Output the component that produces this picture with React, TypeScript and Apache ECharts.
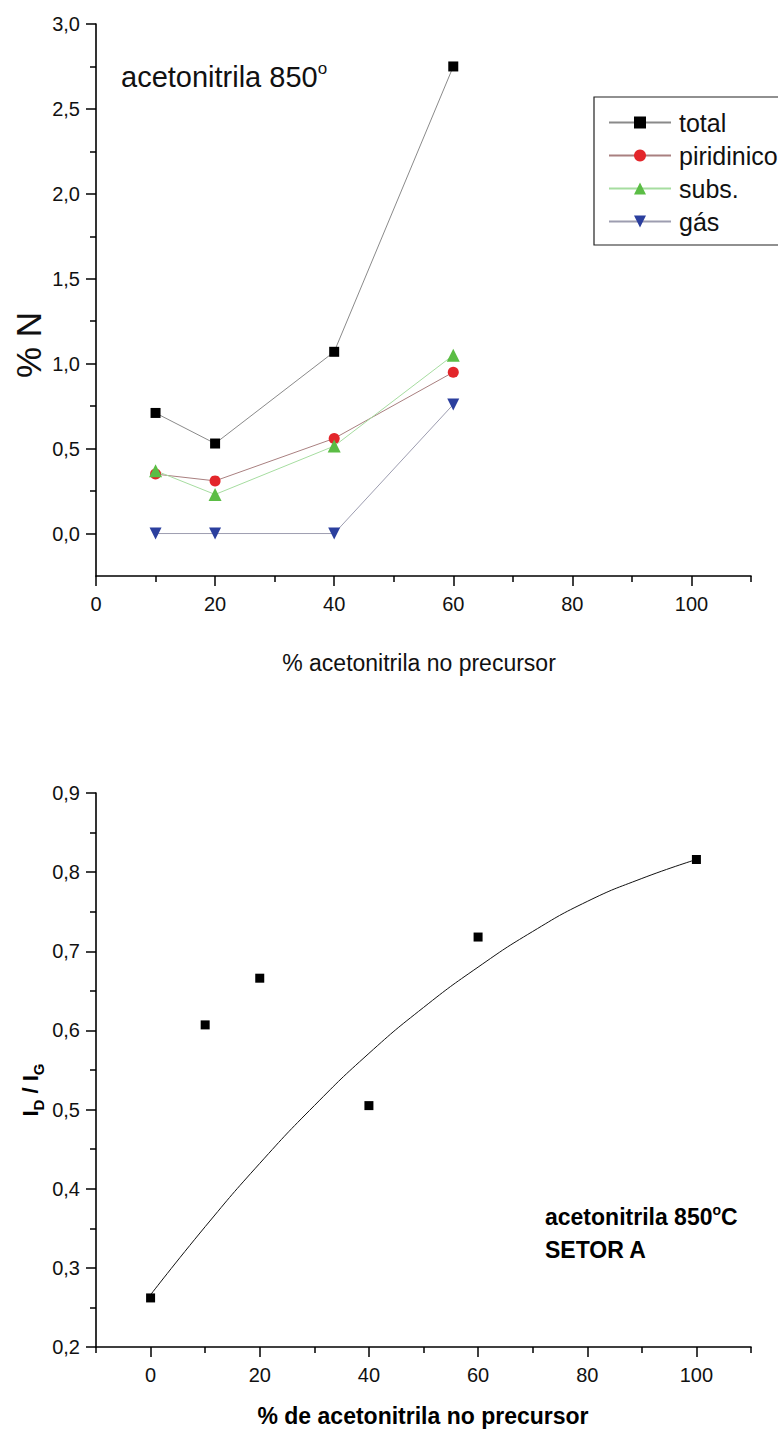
import React, { useEffect, useRef } from 'react';
import * as echarts from 'echarts';

const FONT = '"Liberation Sans", Arial, Helvetica, sans-serif';

// ---- Top chart: % N vs % acetonitrila ----
const topX = [10, 20, 40, 60];
const topTotal = [0.71, 0.53, 1.07, 2.75];
const topPiridinico = [0.35, 0.31, 0.56, 0.95];
const topSubs = [0.37, 0.23, 0.515, 1.05];
const topGas = [0, 0, 0, 0.76];
const topNames = ['total', 'piridinico', 'subs.', 'gás'];

const topXMajor = [0, 20, 40, 60, 80, 100];
const topXMinor = [10, 30, 50, 70, 90, 110];
const topYMajor = [0, 0.5, 1.0, 1.5, 2.0, 2.5, 3.0];
const topYMinor = [0.25, 0.75, 1.25, 1.75, 2.25, 2.75];

// ---- Bottom chart: ID/IG vs % acetonitrila ----
const botX = [0, 10, 20, 40, 60, 100];
const botRatio = [0.262, 0.607, 0.666, 0.505, 0.718, 0.816];
const fitX = [0, 10, 20, 30, 40, 50, 60, 70, 80, 90, 100];
const fitY = [0.266, 0.352, 0.432, 0.505, 0.571, 0.629, 0.68, 0.725, 0.763, 0.792, 0.816];

const botXMajor = [0, 20, 40, 60, 80, 100];
const botXMinor = [-10, 10, 30, 50, 70, 90, 110];
const botYMajor = [0.2, 0.3, 0.4, 0.5, 0.6, 0.7, 0.8, 0.9];
const botYMinor = [0.25, 0.35, 0.45, 0.55, 0.65, 0.75, 0.85];

const pairs = (xs: number[], ys: number[]) => xs.map((x, i) => [x, ys[i]]);
const fmtDec = (v: number) => v.toFixed(1).replace('.', ',');
const fmtInt = (v: number) => String(Math.round(v));

const DOWN_TRI = 'path://M0,0 L12,0 L6,11 Z';

function majorAxis(dim: 'x' | 'y', gridIndex: number, min: number, max: number, ticks: number[], fmt: (v: number) => string) {
  return {
    gridIndex,
    type: 'value',
    min,
    max,
    position: dim === 'x' ? 'bottom' : 'left',
    axisLine: { show: true, onZero: false, lineStyle: { color: '#000', width: 1.6 } },
    axisTick: { show: true, inside: false, length: 10, customValues: ticks, lineStyle: { color: '#000', width: 1.5 } },
    axisLabel: {
      show: true,
      customValues: ticks,
      formatter: fmt,
      fontSize: 20,
      fontFamily: FONT,
      color: '#111',
      margin: dim === 'x' ? 18 : 16,
    },
    splitLine: { show: false },
    minorTick: { show: false },
  };
}

function minorAxis(dim: 'x' | 'y', gridIndex: number, min: number, max: number, ticks: number[]) {
  return {
    gridIndex,
    type: 'value',
    min,
    max,
    position: dim === 'x' ? 'bottom' : 'left',
    axisLine: { show: false, onZero: false },
    axisTick: { show: true, inside: false, length: 6, customValues: ticks, lineStyle: { color: '#000', width: 1.5 } },
    axisLabel: { show: false },
    splitLine: { show: false },
  };
}

export default function App() {
  const ref = useRef<HTMLDivElement>(null);

  useEffect(() => {
    if (!ref.current) return;
    const chart = echarts.init(ref.current, null, { renderer: 'svg' });

    const lineSeries = (name: string, ys: number[], symbol: string, size: number, marker: string, line: string) => ({
      name,
      type: 'line',
      xAxisIndex: 0,
      yAxisIndex: 0,
      data: pairs(topX, ys),
      symbol,
      symbolSize: size,
      showSymbol: true,
      itemStyle: { color: marker, opacity: 1 },
      lineStyle: { color: line, width: 1 },
      emphasis: { disabled: true },
    });

    chart.setOption({
      animation: false,
      backgroundColor: '#fff',
      textStyle: { fontFamily: FONT },
      grid: [
        { left: 96, top: 24, width: 655, height: 552, containLabel: false },
        { left: 96, top: 793, width: 655, height: 554, containLabel: false },
      ],
      xAxis: [
        majorAxis('x', 0, 0, 110, topXMajor, fmtInt),
        minorAxis('x', 0, 0, 110, topXMinor),
        majorAxis('x', 1, -10, 110, botXMajor, fmtInt),
        minorAxis('x', 1, -10, 110, botXMinor),
      ],
      yAxis: [
        majorAxis('y', 0, -0.25, 3.0, topYMajor, fmtDec),
        minorAxis('y', 0, -0.25, 3.0, topYMinor),
        majorAxis('y', 1, 0.2, 0.9, botYMajor, fmtDec),
        minorAxis('y', 1, 0.2, 0.9, botYMinor),
      ],
      legend: {
        show: true,
        orient: 'vertical',
        left: 594,
        top: 97,
        data: topNames,
        itemWidth: 62,
        itemHeight: 15,
        itemGap: 8,
        padding: [13, 40, 11, 14],
        borderColor: '#222',
        borderWidth: 1.2,
        backgroundColor: '#fff',
        textStyle: { fontSize: 25, fontFamily: FONT, color: '#111', padding: [0, 0, 0, 3] },
        selectedMode: false,
      },
      series: [
        lineSeries(topNames[0], topTotal, 'rect', 10, '#000', '#8a8a8a'),
        lineSeries(topNames[1], topPiridinico, 'circle', 11, '#e3262b', '#a98080'),
        lineSeries(topNames[2], topSubs, 'triangle', 13, '#5bbd45', '#a6dda0'),
        lineSeries(topNames[3], topGas, DOWN_TRI, 12, '#2b3f9e', '#9d9db0'),
        {
          name: 'fit',
          type: 'line',
          xAxisIndex: 2,
          yAxisIndex: 2,
          data: pairs(fitX, fitY),
          smooth: true,
          showSymbol: false,
          symbol: 'none',
          lineStyle: { color: '#111', width: 1 },
          emphasis: { disabled: true },
          z: 2,
        },
        {
          name: 'ID/IG',
          type: 'scatter',
          xAxisIndex: 2,
          yAxisIndex: 2,
          data: pairs(botX, botRatio),
          symbol: 'rect',
          symbolSize: 9,
          itemStyle: { color: '#000', opacity: 1 },
          emphasis: { disabled: true },
          z: 3,
        },
      ],
      graphic: [
        {
          type: 'text',
          x: 121,
          y: 77,
          style: {
            text: '{a|acetonitrila 850}{s|o}',
            fill: '#111',
            align: 'left',
            verticalAlign: 'middle',
            rich: {
              a: { fontSize: 29, fontFamily: FONT, lineHeight: 34, fill: '#111' },
              s: { fontSize: 17, fontFamily: FONT, lineHeight: 17, verticalAlign: 'top', fill: '#111' },
            },
          },
        },
        {
          type: 'text',
          x: 28,
          y: 345,
          rotation: Math.PI / 2,
          style: {
            text: '% N',
            fontSize: 35,
            fontFamily: FONT,
            fill: '#111',
            align: 'center',
            verticalAlign: 'middle',
          },
        },
        {
          type: 'text',
          x: 419,
          y: 663,
          style: {
            text: '% acetonitrila no precursor',
            fontSize: 23,
            fontFamily: FONT,
            fill: '#111',
            align: 'center',
            verticalAlign: 'middle',
          },
        },
        {
          type: 'text',
          x: 30,
          y: 1090,
          rotation: Math.PI / 2,
          style: {
            text: '{a|I}{b|D}{a| / I}{b|G}',
            fill: '#000',
            align: 'center',
            verticalAlign: 'middle',
            rich: {
              a: { fontSize: 22, fontWeight: 'bold', fontFamily: FONT, lineHeight: 31, fill: '#000' },
              b: { fontSize: 15, fontWeight: 'bold', fontFamily: FONT, lineHeight: 15, verticalAlign: 'bottom', fill: '#000' },
            },
          },
        },
        {
          type: 'text',
          x: 423,
          y: 1416,
          style: {
            text: '% de acetonitrila no precursor',
            fontSize: 23,
            fontWeight: 'bold',
            fontFamily: FONT,
            fill: '#000',
            align: 'center',
            verticalAlign: 'middle',
          },
        },
        {
          type: 'text',
          x: 545,
          y: 1217,
          style: {
            text: '{a|acetonitrila 850}{s|o}{a|C}',
            fill: '#000',
            align: 'left',
            verticalAlign: 'middle',
            rich: {
              a: { fontSize: 23, fontWeight: 'bold', fontFamily: FONT, lineHeight: 28, fill: '#000' },
              s: { fontSize: 14, fontWeight: 'bold', fontFamily: FONT, lineHeight: 14, verticalAlign: 'top', fill: '#000' },
            },
          },
        },
        {
          type: 'text',
          x: 545,
          y: 1250,
          style: {
            text: 'SETOR A',
            fontSize: 23,
            fontWeight: 'bold',
            fontFamily: FONT,
            fill: '#000',
            align: 'left',
            verticalAlign: 'middle',
          },
        },
      ],
    });

    return () => {
      chart.dispose();
    };
  }, []);

  return (
    <div
      ref={ref}
      style={{ position: 'absolute', left: 0, top: 0, width: 778, height: 1431, background: '#fff' }}
    />
  );
}
